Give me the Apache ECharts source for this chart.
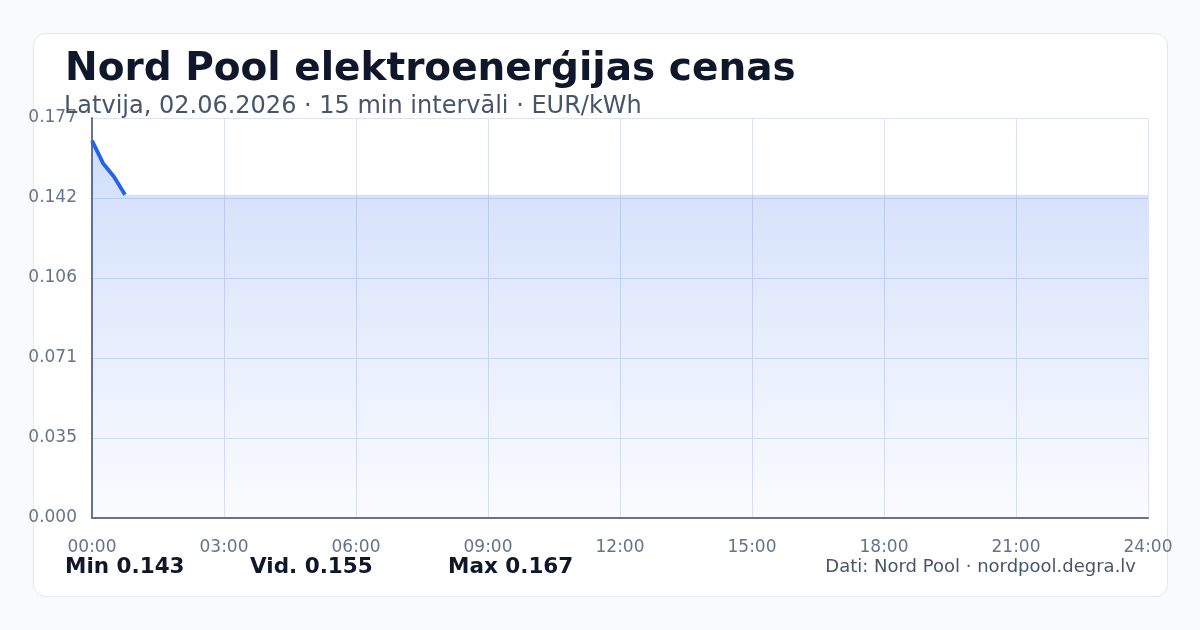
<!DOCTYPE html>
<html><head><meta charset="utf-8">
<script src="https://cdn.jsdelivr.net/npm/echarts@6/dist/echarts.min.js"></script>
<style>html,body{margin:0;padding:0;background:#f8fafc;}#c{width:1200px;height:630px;}</style>
</head><body><div id="c"></div>
<script>
const times = ['00:00','00:15','00:30','00:45'];
const prices = [0.167, 0.157, 0.151, 0.143];
const yTicks = [0.000, 0.035, 0.071, 0.106, 0.142, 0.177];
const xTickLabels = ['00:00','03:00','06:00','09:00','12:00','15:00','18:00','21:00','24:00'];
const stats = {min: 0.143, avg: 0.155, max: 0.167};

const toMin = t => { const [h,m] = t.split(':').map(Number); return h*60+m; };
const lineData = times.map((t,i)=>[toMin(t), prices[i]]);
const areaData = lineData.concat([[24*60, prices[prices.length-1]]]);
const font = 'DejaVu Sans';
const chart = echarts.init(document.getElementById('c'), null, {renderer:'canvas'});
chart.setOption({
  backgroundColor:'#f8fafc',
  animation:false,
  textStyle:{fontFamily:font},
  grid:{left:92, right:52, top:118, bottom:112, containLabel:false},
  xAxis:{type:'value', min:0, max:1440, interval:180,
    axisLine:{show:true, lineStyle:{color:'#64748b', width:2}},
    axisTick:{show:false},
    splitLine:{show:true, lineStyle:{color:'#dbe3f3', width:1}},
    axisLabel:{margin:21, color:'#64748b', fontSize:17, fontFamily:font,
      formatter:v=>xTickLabels[Math.round(v/180)]}},
  yAxis:{type:'value', min:0, max:0.177, interval:0.0354,
    axisLine:{show:true, lineStyle:{color:'#64748b', width:2}},
    axisTick:{show:false},
    splitLine:{show:true, lineStyle:{color:'#dbe3f3', width:1}},
    axisLabel:{margin:15, color:'#64748b', fontSize:17, fontFamily:font,
      formatter:v=>{const i=Math.round(v/0.0354); return yTicks[i]!==undefined? yTicks[i].toFixed(3):'';}}},
  series:[
    {type:'line', data:areaData, symbol:'none', silent:true,
     lineStyle:{width:0, opacity:0},
     areaStyle:{color:new echarts.graphic.LinearGradient(0,0,0,1,[
       {offset:0,color:'rgba(37,99,235,0.3)'},{offset:1,color:'rgba(37,99,235,0.03)'}])},
     z:1},
    {type:'line', data:lineData, symbol:'none', lineStyle:{color:'#2563eb', width:3.8}, z:3}
  ],
  graphic:[
    {type:'rect', z:-10, silent:true, shape:{x:33.5,y:33.5,width:1134,height:563,r:12},
     style:{fill:'#ffffff', stroke:'#e2e8f0', lineWidth:1}},
    {type:'text', left:65, top:50, z:10, style:{text:'Nord Pool elektroenerģijas cenas', fill:'#0f172a', font:'bold 39px "DejaVu Sans"'}},
    {type:'text', left:64, top:95, z:10, style:{text:'Latvija, 02.06.2026 · 15 min intervāli · EUR/kWh', fill:'#475569', font:'24px "DejaVu Sans"'}},
    {type:'text', left:65, top:556, z:10, style:{text:'Min '+stats.min.toFixed(3), fill:'#0f172a', font:'bold 21.5px "DejaVu Sans"'}},
    {type:'text', left:250, top:556, z:10, style:{text:'Vid. '+stats.avg.toFixed(3), fill:'#0f172a', font:'bold 21.5px "DejaVu Sans"'}},
    {type:'text', left:448, top:556, z:10, style:{text:'Max '+stats.max.toFixed(3), fill:'#0f172a', font:'bold 21.5px "DejaVu Sans"'}},
    {type:'text', right:64, top:558, z:10, style:{text:'Dati: Nord Pool · nordpool.degra.lv', fill:'#475569', font:'18px "DejaVu Sans"'}}
  ]
});
</script></body></html>
